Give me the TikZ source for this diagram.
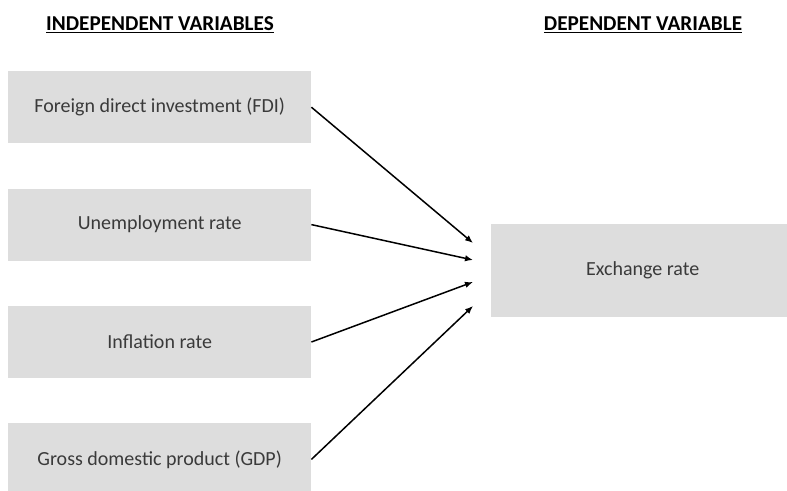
\documentclass[tikz,border=0pt]{standalone}
\usepackage{fontspec}
\setmainfont{Carlito}
\usepackage{tikz}
\usetikzlibrary{arrows.meta,positioning}
\definecolor{boxGray}{HTML}{DDDDDD}
\definecolor{txtGray}{HTML}{3A3A3A}
% heading with a heavier rule underneath
\newcommand{\ulhead}[1]{\vtop{\hbox{#1}\kern1.2pt\hrule height 1.7pt}}

\begin{document}
\begin{tikzpicture}[x=1pt, y=1pt, node distance=45pt,
    var/.style={fill=boxGray, text=txtGray, minimum width=303pt, minimum height=72pt, inner sep=0pt, font=\fontsize{20}{24}\selectfont},
    head/.style={font=\fontsize{21.2}{25}\selectfont\bfseries},
    link/.style={-{Latex[length=8pt,width=6.5pt]}, line width=1.5pt}]
  \useasboundingbox (0,0) rectangle (787,-490);
  % independent variables, stacked
  \node[var, anchor=north west] (fdi) at (8,-71) {Foreign direct investment (FDI)};
  \node[var, below=of fdi] (unemp) {Unemployment rate};
  \node[var, below=of unemp] (infl) {Inflation rate};
  \node[var, below=of infl] (gdp) {Gross domestic product (GDP)};
  % dependent variable
  \node[var, minimum height=93pt, anchor=west] (exch) at (491,-270.5) {Exchange rate};
  % column headings
  \node[head] (indep) at (160,-25) {\ulhead{INDEPENDENT VARIABLES}};
  \node[head] (dep) at (643,-25) {\ulhead{DEPENDENT VARIABLE}};
  % arrow heads stop short of the box
  \coordinate (t1) at ([xshift=-18pt, yshift=27.5pt]exch.west);
  \coordinate (t2) at ([xshift=-18pt, yshift=10.5pt]exch.west);
  \coordinate (t3) at ([xshift=-18pt, yshift=-11.5pt]exch.west);
  \coordinate (t4) at ([xshift=-18pt, yshift=-35.5pt]exch.west);
  \draw[link] (fdi.east) -- (t1);
  \draw[link] (unemp.east) -- (t2);
  \draw[link] (infl.east) -- (t3);
  \draw[link] (gdp.east) -- (t4);
\end{tikzpicture}
\end{document}
